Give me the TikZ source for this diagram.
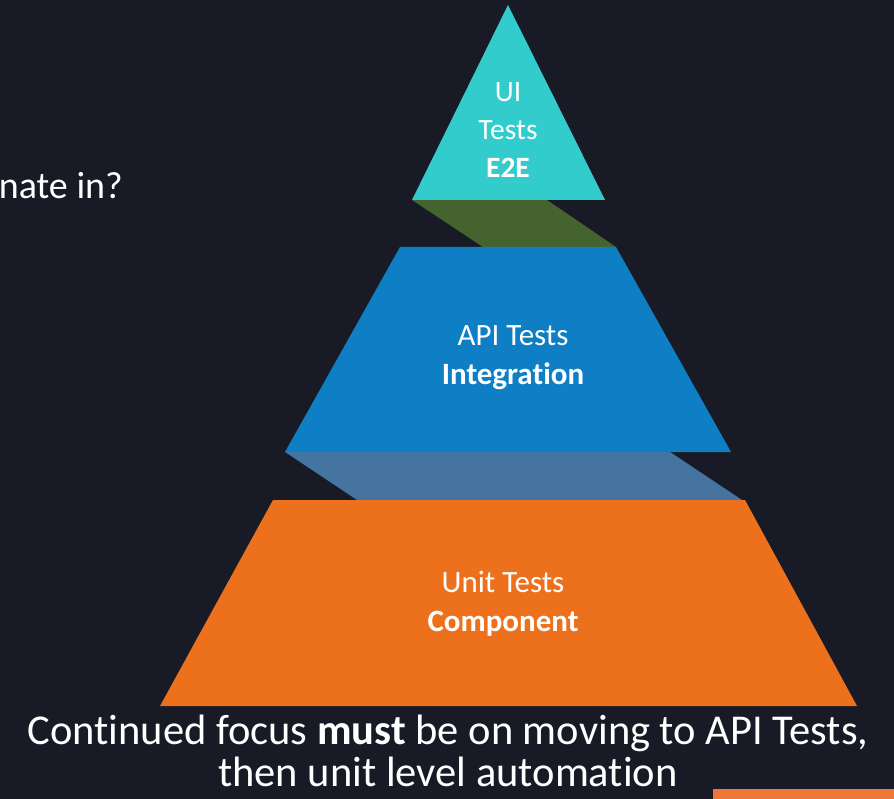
\documentclass[tikz,border=0pt]{standalone}
\usepackage{fontspec}
\setmainfont{Carlito}[Ligatures={NoCommon}]
\definecolor{bg}{HTML}{181B25}
\definecolor{teal}{HTML}{33CCCC}
\definecolor{olive}{HTML}{44632F}
\definecolor{apiblue}{HTML}{0E7FC4}
\definecolor{greyblue}{HTML}{44749F}
\definecolor{unitorange}{HTML}{ED711C}
\definecolor{barorange}{HTML}{EE7737}
\begin{document}
\begin{tikzpicture}[x=1pt,y=-1pt,
  lbl/.style={text=white,align=center,font=\fontsize{31}{39}\selectfont,inner sep=0pt},
  tiplbl/.style={text=white,align=center,font=\fontsize{29.5}{38}\selectfont,inner sep=0pt},
  caption/.style={text=white,align=center,font=\fontsize{42.5}{42}\selectfont,inner sep=0pt}]
\fill[bg] (0,0) rectangle (894,799);
\useasboundingbox (0,0) rectangle (894,799);
% connecting bands
\fill[olive] (412,200) -- (547,200) -- (616,247) -- (483,247) -- cycle;
\fill[greyblue] (285,452) -- (670,452) -- (742,500) -- (357,500) -- cycle;
% tiers
\fill[teal] (508,5) -- (605,200) -- (412,200) -- cycle;
\fill[apiblue] (400,247) -- (616,247) -- (731,452) -- (285,452) -- cycle;
\fill[unitorange] (273,500) -- (745,500) -- (857,706) -- (160,706) -- cycle;
% labels
\node[tiplbl] (ui) at (508,130) {UI\\Tests\\\textbf{E2E}};
\node[lbl] (api) at (513,358) {API Tests\\\textbf{Integration}};
\node[lbl] (unit) at (503,604) {Unit Tests\\\textbf{Component}};
\node[caption] (cap) at (448,751) {Continued focus \textbf{must} be on moving to API Tests,\\then unit level automation};
\node[text=white,font=\fontsize{38}{42}\selectfont,inner sep=0pt,anchor=east] (q) at (123,186) {nate in?};
\fill[barorange] (713,789) rectangle (894,799);
\end{tikzpicture}
\end{document}
